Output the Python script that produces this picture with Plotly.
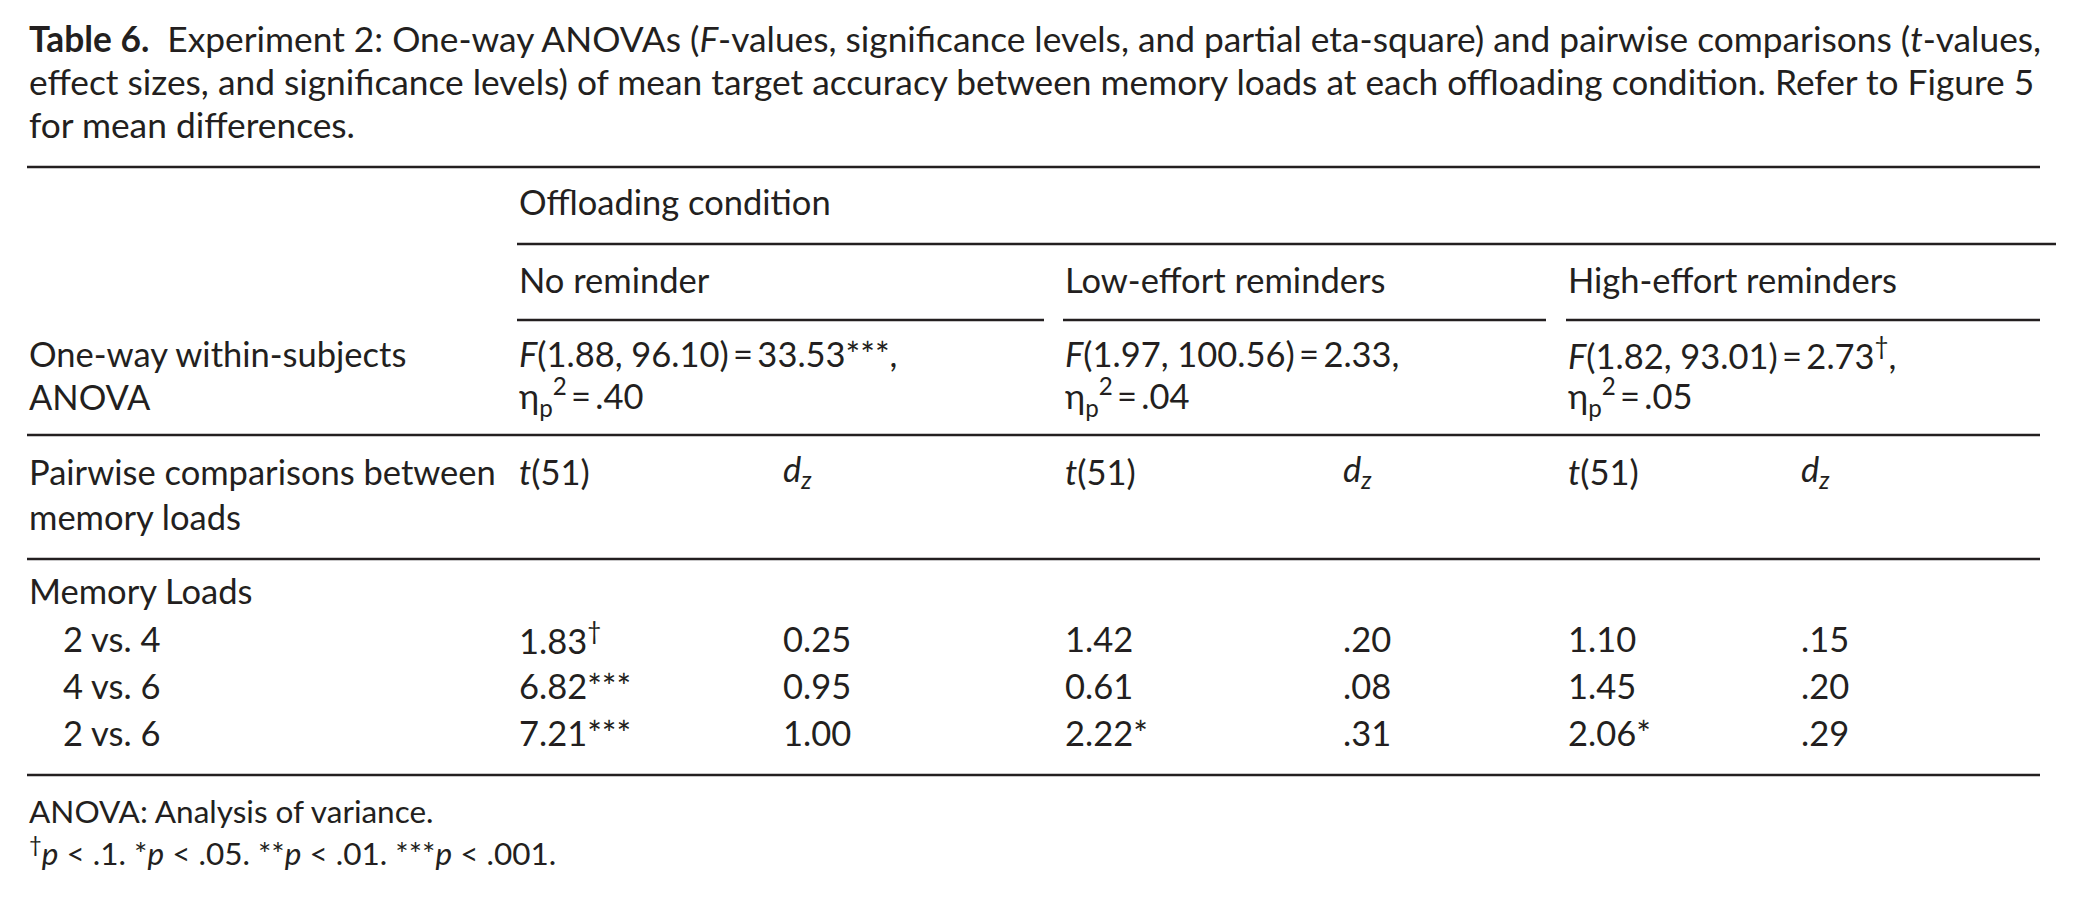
import plotly.graph_objects as go

# ---------------- data ----------------
title_lines = [
    "<b>Table 6.</b>\u00a0\u00a0Experiment 2: One-way ANOVAs (<i>F</i>-values, significance levels, and partial eta-square) and pairwise comparisons (<i>t</i>-values,",
    "effect sizes, and significance levels) of mean target accuracy between memory loads at each offloading condition. Refer to Figure 5",
    "for mean differences.",
]
group_header = "Offloading condition"
conditions = ["No reminder", "Low-effort reminders", "High-effort reminders"]
anova_df1 = ["1.88", "1.97", "1.82"]
anova_df2 = ["96.10", "100.56", "93.01"]
anova_F = ["33.53", "2.33", "2.73"]
anova_sig = ["***", "", "<sup>\u2020</sup>"]
anova_eta = [".40", ".04", ".05"]
row_labels = ["One-way within-subjects", "ANOVA"]
pair_labels = ["Pairwise comparisons between", "memory loads"]
section_label = "Memory Loads"
comparisons = ["2 vs. 4", "4 vs. 6", "2 vs. 6"]
t_no = ["1.83", "6.82", "7.21"]
t_no_sig = ["<sup>\u2020</sup>", "***", "***"]
d_no = ["0.25", "0.95", "1.00"]
t_low = ["1.42", "0.61", "2.22"]
t_low_sig = ["", "", "*"]
d_low = [".20", ".08", ".31"]
t_high = ["1.10", "1.45", "2.06"]
t_high_sig = ["", "", "*"]
d_high = [".15", ".20", ".29"]
footnotes = [
    "ANOVA: Analysis of variance.",
    "<sup>\u2020</sup><i>p</i> < .1. *<i>p</i> < .05. **<i>p</i> < .01. ***<i>p</i> < .001.",
]

# ---------------- layout constants ----------------
W, H = 2082, 898
FONT = "Lato"
FS_TITLE = 35.3
FS = 34.5
FS_FOOT = 31.5
COL = "#231f20"
X0 = 27
XR = 2040
col_t = [517, 1063, 1566]
col_d = [781, 1341, 1799]
sub_rule_end = [1044, 1546, 2040]
y_title = [38, 81, 124]
y_rule_top = 167
y_group = 201
y_rule_group = 244
y_cond = 279
y_rule_cond = 320
y_anova = [353, 396]
y_rule_anova = 435
y_pair = [471, 516]
y_rule_pair = 559
y_section = 590
y_rows = [638, 685, 732]
y_rule_bottom = 775
y_foot = [811, 851]

ann = []


def txt(x, y, s, size=FS):
    ann.append(dict(x=x, y=y, xref="x", yref="y", text=s, showarrow=False,
                    xanchor="left", yanchor="middle",
                    font=dict(family=FONT, size=size, color=COL)))


shapes = []


def rule(x1, x2, y, w=2.4):
    shapes.append(dict(type="line", xref="x", yref="y", x0=x1, x1=x2, y0=y, y1=y,
                       line=dict(color=COL, width=w)))


for y, s in zip(y_title, title_lines):
    txt(X0, y, s, size=FS_TITLE)

rule(X0, XR, y_rule_top)
txt(col_t[0], y_group, group_header)
rule(col_t[0], 2056, y_rule_group)
for i, c in enumerate(conditions):
    txt(col_t[i], y_cond, c)
    rule(col_t[i], sub_rule_end[i], y_rule_cond)

txt(X0, y_anova[0], row_labels[0])
txt(X0, y_anova[1], row_labels[1])
for i in range(3):
    txt(col_t[i], y_anova[0],
        f"<i>F</i>({anova_df1[i]}, {anova_df2[i]})\u2009=\u2009{anova_F[i]}{anova_sig[i]},")
    txt(col_t[i], y_anova[1],
        f"\u03b7<sub>p</sub><sup>2</sup>\u2009=\u2009{anova_eta[i]}")
rule(X0, XR, y_rule_anova)

txt(X0, y_pair[0], pair_labels[0])
txt(X0, y_pair[1], pair_labels[1])
for i in range(3):
    txt(col_t[i], y_pair[0], "<i>t</i>(51)")
    txt(col_d[i], y_pair[0], "<i>d</i><sub><i>z</i></sub>")
rule(X0, XR, y_rule_pair)

txt(X0, y_section, section_label)
t_cols = [t_no, t_low, t_high]
s_cols = [t_no_sig, t_low_sig, t_high_sig]
d_cols = [d_no, d_low, d_high]
for r, lab in enumerate(comparisons):
    txt(61, y_rows[r], lab)
    for i in range(3):
        txt(col_t[i], y_rows[r], t_cols[i][r] + s_cols[i][r])
        txt(col_d[i], y_rows[r], d_cols[i][r])
rule(X0, XR, y_rule_bottom)

for y, s in zip(y_foot, footnotes):
    txt(X0, y, s, size=FS_FOOT)

fig = go.Figure()
fig.update_layout(
    width=W, height=H, margin=dict(l=0, r=0, t=0, b=0),
    paper_bgcolor="white", plot_bgcolor="white",
    xaxis=dict(range=[0, W], visible=False, fixedrange=True),
    yaxis=dict(range=[H, 0], visible=False, fixedrange=True),
    annotations=ann, shapes=shapes, showlegend=False,
)
fig.write_html("out.html", config={"displayModeBar": False},
               post_script="document.body.style.margin='0px';document.body.style.overflow='hidden';")
